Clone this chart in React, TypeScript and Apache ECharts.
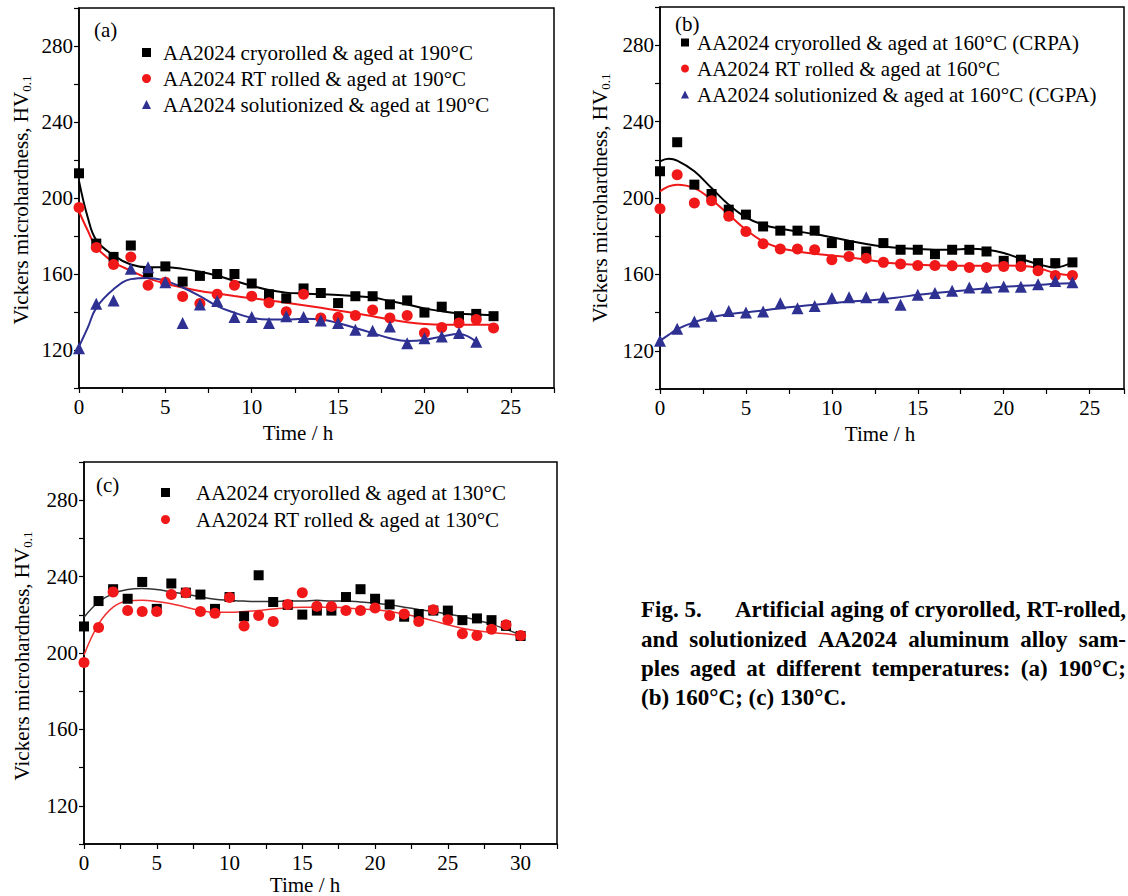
import React, { useEffect, useRef } from 'react';
import * as echarts from 'echarts';

const FONT = 'Liberation Serif';
const BLACK = '#000000';
const RED = '#f01818';
const BLUE = '#2e3192';

// ---------- Panel (a) 190 °C ----------
const hoursA = [0, 1, 2, 3, 4, 5, 6, 7, 8, 9, 10, 11, 12, 13, 14, 15, 16, 17, 18, 19, 20, 21, 22, 23, 24];
const aCryo = [213, 176, 169, 175, 161, 164, 156, 159, 160, 160, 155, 149.3, 147.2, 152.4, 150, 144.7, 148.3, 148.3, 144, 146.1, 139.7, 142.8, 137.8, 139, 137.8];
const aRT = [195, 173.9, 165, 168.9, 154.1, 155.6, 148.1, 144.5, 149.3, 154.1, 148.3, 144.9, 140.1, 149.3, 136.9, 137.2, 138.1, 141, 136.9, 138.1, 128.9, 131.9, 134.2, 136, 131.6];
const hoursASol = [0, 1, 2, 3, 4, 5, 6, 7, 8, 9, 10, 11, 12, 13, 14, 15, 16, 17, 18, 19, 20, 21, 22, 23];
const aSol = [120.9, 144.4, 146.1, 162.7, 163.6, 155.6, 134.2, 144, 145.8, 137.4, 137.4, 134.2, 137.8, 137.4, 135.5, 134.2, 130.7, 130.1, 132.4, 123.6, 126.2, 127.1, 128.9, 124.4];
const fitHoursA = [0, 0.5, 1, 2, 3, 4, 5, 6, 7, 8, 9, 10, 11, 12, 13, 14, 15, 16, 17, 18, 19, 20, 21, 22, 23, 24];
const aCryoFit = [208.9, 190, 177.8, 169.8, 165, 163.6, 163.6, 162.7, 161.2, 159.1, 156.4, 153.8, 151.6, 150.2, 149.7, 149.3, 149, 148.4, 147.6, 145.8, 144, 141.9, 140.4, 139.2, 138.7, 138.3];
const aRTFit = [192.9, 183, 174.2, 166.2, 161.8, 157.7, 155, 152.9, 151.1, 149.7, 148.4, 147.2, 146.1, 144.9, 143.6, 142.2, 140.8, 139.4, 137.8, 136, 134.6, 133.7, 133.3, 133.3, 133.3, 133.3];
const fitHoursASol = [0, 0.5, 1, 2, 3, 4, 5, 6, 7, 8, 9, 10, 11, 12, 13, 14, 15, 16, 17, 18, 19, 20, 21, 22, 23];
const aSolFit = [121.8, 131.6, 142.2, 152, 157.3, 157.9, 156.4, 152.9, 148.4, 143.1, 139.6, 136.9, 136, 136, 136.4, 136, 134.2, 131.6, 128.9, 126.2, 124.8, 125.3, 127.1, 128.4, 124.4];

// ---------- Panel (b) 160 °C ----------
const hoursB = [0, 1, 2, 3, 4, 5, 6, 7, 8, 9, 10, 11, 12, 13, 14, 15, 16, 17, 18, 19, 20, 21, 22, 23, 24];
const bCryo = [214, 229.2, 207, 202.1, 193.9, 191.3, 185.1, 182.9, 182.9, 182.9, 176.4, 175.2, 172, 176.4, 172.9, 172.9, 170.6, 172.9, 172.9, 172, 167.1, 167.7, 165.9, 165.9, 166.3];
const bRT = [194.4, 212.2, 197.4, 198.6, 190.4, 182.5, 176, 173.3, 173.3, 172.9, 167.7, 169.4, 168.5, 166.3, 165.4, 164.7, 164.7, 164.5, 163.6, 163.6, 164.2, 164.2, 161.9, 159.4, 159.4];
const bSol = [125.2, 131.5, 135.3, 138.3, 140.9, 140, 140.6, 144.9, 142.3, 143.5, 147.6, 148.1, 148.1, 148.1, 144.1, 149.3, 150.2, 151.4, 153.1, 153.1, 153.7, 153.5, 154.9, 156.6, 155.9];
const fitHoursB = [0, 0.5, 1, 2, 3, 4, 5, 6, 7, 8, 9, 10, 11, 12, 13, 14, 15, 16, 17, 18, 19, 20, 21, 22, 23, 24];
const bCryoFit = [219.2, 220.5, 219.6, 214, 205.2, 196.5, 189.9, 186, 183.9, 182.5, 181.1, 179.4, 177.6, 175.9, 174.6, 173.8, 173.3, 172.9, 172.9, 173.4, 172.9, 171.2, 168.2, 165.4, 163.6, 166.4];
const bRTFit = [203.5, 206.1, 207, 205.2, 199.1, 191.3, 183.4, 177.3, 173.8, 172, 170.8, 169.9, 168.9, 167.7, 166.4, 165.6, 165, 164.7, 164.5, 164.5, 164.5, 164.7, 164.5, 163.3, 160.7, 159.3];
const bSolFit = [125.2, 128.3, 131.3, 135, 137.6, 139.2, 140.2, 141.1, 142.3, 143.2, 144.1, 144.9, 145.8, 146.3, 147, 148.1, 149.3, 150.2, 151, 151.9, 152.8, 153.5, 154, 154.5, 155.1, 155.4];

// ---------- Panel (c) 130 °C ----------
const hoursC = [0, 1, 2, 3, 4, 5, 6, 7, 8, 9, 10, 11, 12, 13, 14, 15, 16, 17, 18, 19, 20, 21, 22, 23, 24, 25, 26, 27, 28, 29, 30];
const cCryo = [213.9, 227.2, 233.4, 228.4, 237.2, 223.1, 236.4, 231.6, 230.6, 223.1, 229.3, 219.2, 240.7, 226.7, 225.2, 220.1, 222.2, 222.2, 229.3, 233.4, 228.4, 225.4, 219, 220.4, 222.2, 222.2, 217.2, 218.1, 217.2, 214.2, 208.9];
const cRT = [195, 213.3, 232, 222.2, 221.7, 221.7, 230.6, 231.6, 221.7, 220.8, 229, 214.2, 219.6, 216.5, 225.4, 231.6, 224.5, 224.4, 222.2, 222.2, 223.6, 219.6, 220.4, 216.5, 222.6, 217.4, 210.1, 209.2, 212.4, 214.8, 209.2];
const cCryoFit = [218.7, 226.7, 231.1, 233.2, 233.8, 233.2, 232, 230.8, 229.3, 228.1, 227.6, 227.2, 227, 227, 227.2, 227.2, 227.6, 227.2, 227.2, 226.7, 226.1, 225.2, 224, 222.8, 221.7, 220.4, 219, 217.2, 215.1, 212.4, 209.4];
const cRTFit = [199, 215.1, 224, 227.2, 227.6, 227, 225.8, 224, 222.2, 221.3, 221.3, 221.7, 222.2, 223.1, 223.6, 224, 224, 224, 223.6, 223.1, 222.6, 221.7, 220.4, 218.7, 216.9, 214.8, 213, 211.6, 210.7, 210.1, 209.2];

// ---------- Texts ----------
const namesA = ['AA2024 cryorolled & aged at 190°C', 'AA2024 RT rolled & aged at 190°C', 'AA2024 solutionized & aged at 190°C'];
const namesB = ['AA2024 cryorolled & aged at 160°C (CRPA)', 'AA2024 RT rolled & aged at 160°C', 'AA2024 solutionized & aged at 160°C (CGPA)'];
const namesC = ['AA2024 cryorolled & aged at 130°C', 'AA2024 RT rolled & aged at 130°C'];
const panelLabels = ['(a)', '(b)', '(c)'];
const xTitle = 'Time / h';
const yTitleMain = 'Vickers microhardness, HV';
const yTitleSub = '0.1';
const captionLead = 'Fig. 5.';
const captionLines = [
  'Artificial aging of cryorolled, RT-rolled,',
  'and solutionized AA2024 aluminum alloy sam-',
  'ples aged at different temperatures: (a) 190°C;',
  '(b) 160°C; (c) 130°C.',
];

const zip = (xs: number[], ys: number[]) => xs.map((x, i) => [x, ys[i]]);

function xAxisCfg(gridIndex: number, max: number, labelMax: number) {
  return {
    type: 'value', gridIndex, min: 0, max, interval: 2.5,
    axisLine: { show: true, onZero: false, lineStyle: { color: '#000', width: 1.5 } },
    axisTick: { show: true, inside: false, length: 5, lineStyle: { color: '#000', width: 1.2 } },
    axisLabel: {
      fontFamily: FONT, fontSize: 21, color: '#000', margin: 8, showMaxLabel: true,
      formatter: (v: number) => (Math.abs(v % 5) < 1e-6 && v <= labelMax ? String(v) : ''),
    },
    splitLine: { show: false },
  };
}

function yAxisCfg(gridIndex: number) {
  return {
    type: 'value', gridIndex, min: 100, max: 300, interval: 20,
    axisLine: { show: true, onZero: false, lineStyle: { color: '#000', width: 1.5 } },
    axisTick: { show: true, inside: false, length: 5, lineStyle: { color: '#000', width: 1.2 } },
    axisLabel: {
      fontFamily: FONT, fontSize: 21, color: '#000', margin: 6,
      formatter: (v: number) => (v >= 120 && v <= 280 && (v - 120) % 40 === 0 ? String(v) : ''),
    },
    splitLine: { show: false },
  };
}

function scatter(name: string, idx: number, data: number[][], symbol: string, size: number, color: string) {
  return {
    type: 'scatter', name, xAxisIndex: idx, yAxisIndex: idx, data, symbol, symbolSize: size,
    itemStyle: { color, opacity: 1 }, clip: true, z: 3, emphasis: { disabled: true }, silent: true,
  };
}

function fit(name: string, idx: number, data: number[][], color: string, width: number) {
  return {
    type: 'line', name, xAxisIndex: idx, yAxisIndex: idx, data, smooth: 0.4, showSymbol: false, symbol: 'none',
    lineStyle: { color, width }, z: 2, clip: true, silent: true, emphasis: { disabled: true },
  };
}

function yTitle(x: number, y: number) {
  return {
    type: 'text', x, y, rotation: Math.PI / 2,
    style: {
      text: `{m|${yTitleMain}}{s|${yTitleSub}}`,
      align: 'center', verticalAlign: 'middle', fill: '#000',
      rich: {
        m: { fontFamily: FONT, fontSize: 21, lineHeight: 24, fill: '#000' },
        s: { fontFamily: FONT, fontSize: 13, lineHeight: 8, verticalAlign: 'bottom', fill: '#000' },
      },
    },
  };
}

function plainText(text: string, x: number, y: number, align = 'left', size = 21, weight = 'normal') {
  return {
    type: 'text', x, y,
    style: { text, x: 0, y: 0, align, verticalAlign: 'middle', fontFamily: FONT, fontSize: size, fontWeight: weight, fill: '#000' },
  };
}

function captionElements() {
  const size = 23;
  const left = 641;
  const right = 1126;
  const ys = [609, 639, 668, 697];
  const canvas = document.createElement('canvas');
  const ctx = canvas.getContext('2d') as CanvasRenderingContext2D;
  ctx.font = `bold ${size}px "Liberation Serif"`;
  const els: any[] = [];
  els.push(plainText(captionLead, left, ys[0], 'left', size, 'bold'));
  els.push(plainText(captionLines[0], right, ys[0], 'right', size, 'bold'));
  for (let li = 1; li <= 2; li++) {
    const words = captionLines[li].split(' ');
    const widths = words.map((w) => ctx.measureText(w).width);
    const total = widths.reduce((a, b) => a + b, 0);
    const gap = (right - left - total) / (words.length - 1);
    let x = left;
    words.forEach((w, i) => {
      els.push(plainText(w, x, ys[li], 'left', size, 'bold'));
      x += widths[i] + gap;
    });
  }
  els.push(plainText(captionLines[3], left, ys[3], 'left', size, 'bold'));
  return els;
}

export default function App() {
  const ref = useRef<HTMLDivElement>(null);
  useEffect(() => {
    if (!ref.current) return;
    const chart = echarts.init(ref.current, undefined, { renderer: 'svg' });
    const legendText = (padLeft: number) => ({ fontFamily: FONT, fontSize: 21, color: '#000', lineHeight: 21, padding: [0, 0, 0, padLeft] });
    chart.setOption({
      animation: false,
      backgroundColor: '#ffffff',
      grid: [
        { left: 79, top: 8, width: 475, height: 380, show: true, borderColor: '#000', borderWidth: 1.5, backgroundColor: 'transparent' },
        { left: 660, top: 7, width: 464, height: 382, show: true, borderColor: '#000', borderWidth: 1.5, backgroundColor: 'transparent' },
        { left: 84, top: 462, width: 473, height: 382, show: true, borderColor: '#000', borderWidth: 1.5, backgroundColor: 'transparent' },
      ],
      xAxis: [xAxisCfg(0, 27.5, 25), xAxisCfg(1, 27, 25), xAxisCfg(2, 32.5, 30)],
      yAxis: [yAxisCfg(0), yAxisCfg(1), yAxisCfg(2)],
      legend: [
        { orient: 'vertical', left: 142, top: 42, padding: 0, itemWidth: 9, itemHeight: 9, itemGap: 5, data: namesA, textStyle: legendText(7), selectedMode: false },
        { orient: 'vertical', left: 681, top: 32, padding: 0, itemWidth: 8, itemHeight: 8, itemGap: 5, data: namesB, textStyle: legendText(3), selectedMode: false },
        { orient: 'vertical', left: 161, top: 482, padding: 0, itemWidth: 9, itemHeight: 9, itemGap: 6, data: namesC, textStyle: legendText(21), selectedMode: false },
      ],
      series: [
        fit('fitA1', 0, zip(fitHoursA, aCryoFit), BLACK, 2),
        fit('fitA2', 0, zip(fitHoursA, aRTFit), RED, 2),
        fit('fitA3', 0, zip(fitHoursASol, aSolFit), BLUE, 2),
        scatter(namesA[0], 0, zip(hoursA, aCryo), 'rect', 10, BLACK),
        scatter(namesA[1], 0, zip(hoursA, aRT), 'circle', 11, RED),
        scatter(namesA[2], 0, zip(hoursASol, aSol), 'triangle', 12, BLUE),

        fit('fitB1', 1, zip(fitHoursB, bCryoFit), BLACK, 2),
        fit('fitB2', 1, zip(fitHoursB, bRTFit), RED, 2),
        fit('fitB3', 1, zip(fitHoursB, bSolFit), BLUE, 2),
        scatter(namesB[0], 1, zip(hoursB, bCryo), 'rect', 10, BLACK),
        scatter(namesB[1], 1, zip(hoursB, bRT), 'circle', 11, RED),
        scatter(namesB[2], 1, zip(hoursB, bSol), 'triangle', 12, BLUE),

        fit('fitC1', 2, zip(hoursC, cCryoFit), '#333333', 1.5),
        fit('fitC2', 2, zip(hoursC, cRTFit), '#f03030', 1.5),
        scatter(namesC[0], 2, zip(hoursC, cCryo), 'rect', 10, BLACK),
        scatter(namesC[1], 2, zip(hoursC, cRT), 'circle', 11, RED),
      ],
      graphic: [
        plainText(panelLabels[0], 94, 30),
        plainText(panelLabels[1], 675, 24),
        plainText(panelLabels[2], 96, 485),
        yTitle(21, 200),
        yTitle(600, 198),
        yTitle(22, 656),
        plainText(xTitle, 298, 433, 'center'),
        plainText(xTitle, 880, 434, 'center'),
        plainText(xTitle, 305, 885, 'center'),
        ...captionElements(),
      ],
    });
    return () => chart.dispose();
  }, []);
  return <div ref={ref} style={{ position: 'fixed', left: 0, top: 0, width: 1128, height: 896 }} />;
}
